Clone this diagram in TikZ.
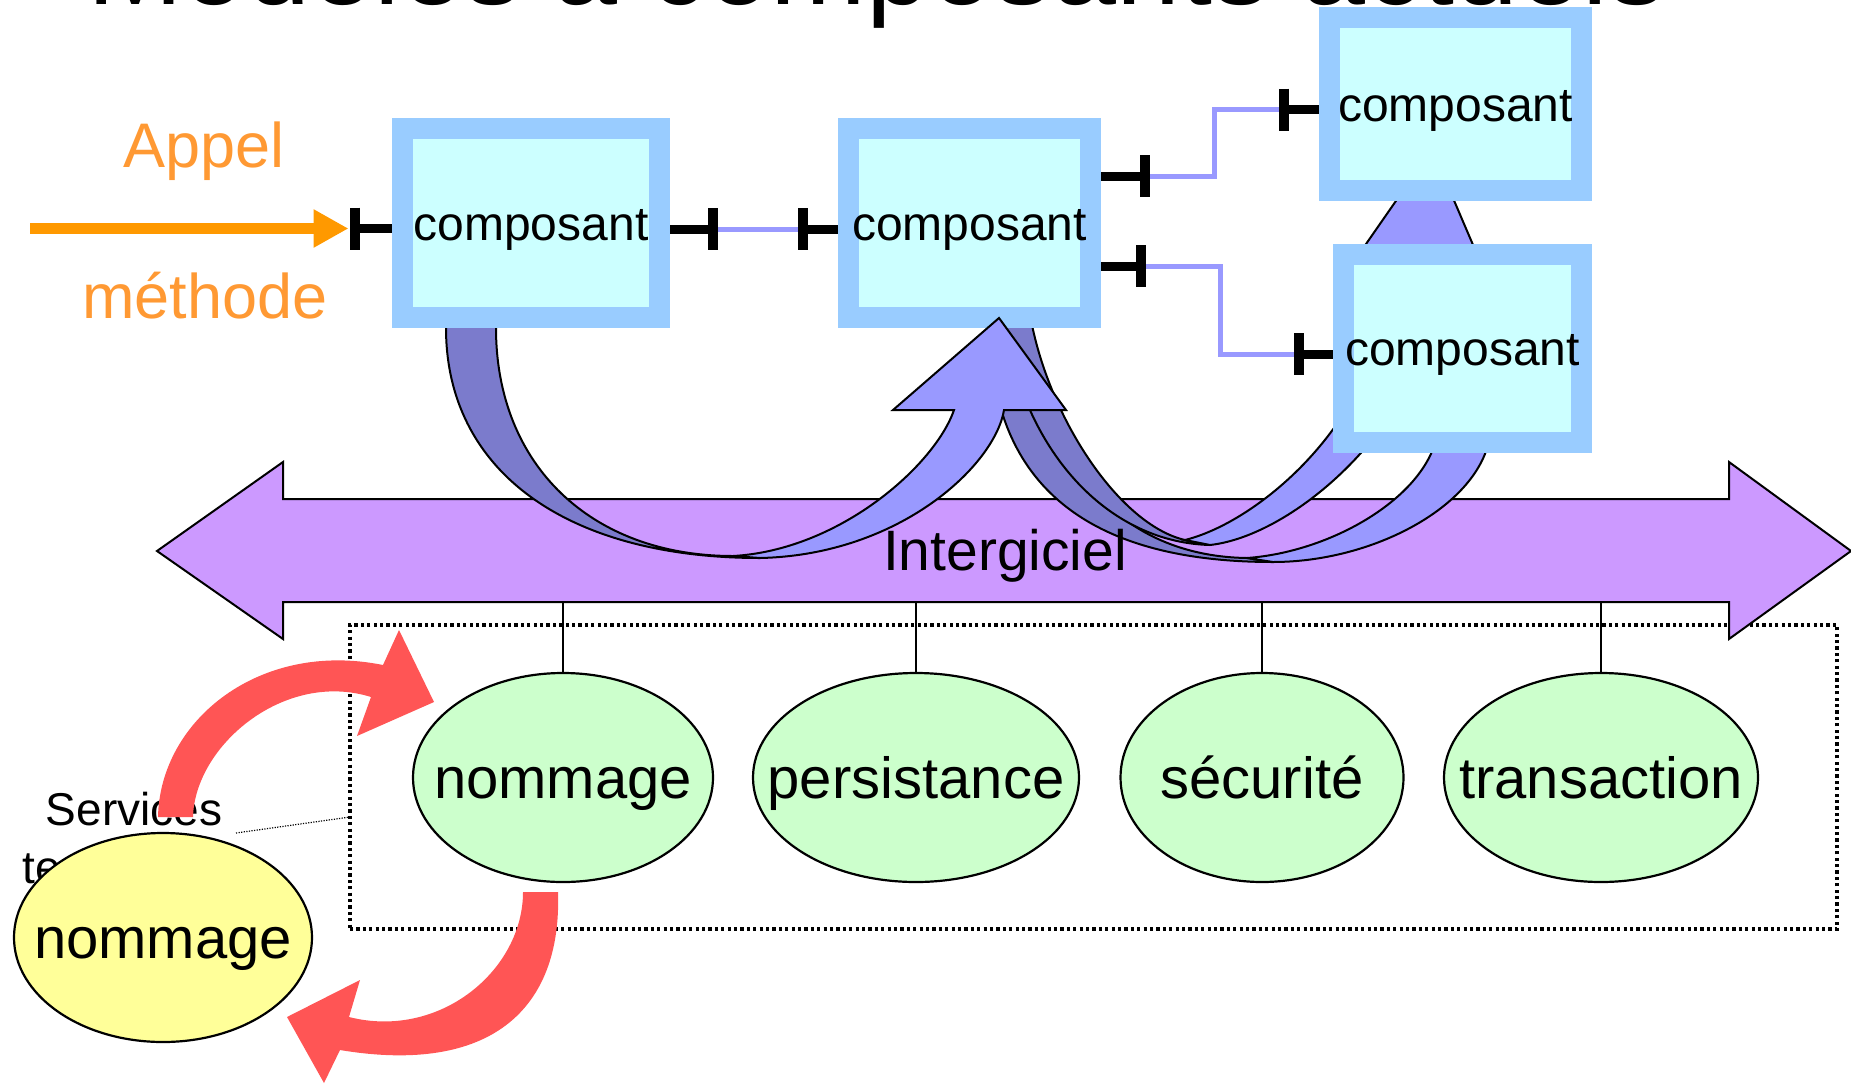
\documentclass[tikz,border=0pt]{standalone}
\usepackage{fontspec}
\setmainfont{Liberation Sans}
\usetikzlibrary{shapes.geometric,arrows.meta}
\definecolor{boxblue}{HTML}{99CCFF}
\definecolor{boxcyan}{HTML}{CCFFFF}
\definecolor{wirepurple}{HTML}{9999FF}
\definecolor{banddark}{HTML}{7B7BCC}
\definecolor{bandlight}{HTML}{9999FF}
\definecolor{mwpurple}{HTML}{CC99FF}
\definecolor{svcgreen}{HTML}{CCFFCC}
\definecolor{svcyellow}{HTML}{FFFF99}
\definecolor{redarrow}{HTML}{FF5555}
\definecolor{arroworange}{HTML}{FF9900}
\definecolor{textorange}{HTML}{FF9933}
\begin{document}
\begin{tikzpicture}[x=1pt,y=-1pt,
  compbox/.style={draw=boxblue, line width=21pt, fill=boxcyan, inner sep=0pt,
    font=\fontsize{48}{58}\selectfont, text height=40pt, text depth=6pt},
  svcell/.style={ellipse, draw=black, line width=2.2pt, inner sep=0pt, minimum height=209pt,
    font=\fontsize{58}{70}\selectfont, text height=53pt, text depth=12pt},
  bandd/.style={fill=banddark, draw=black, line width=2pt},
  bandl/.style={fill=bandlight, draw=black, line width=2pt},
  portbar/.style={draw=black, line width=10pt},
  portstub/.style={draw=black, line width=9pt},
  wire/.style={draw=wirepurple, line width=5pt},
  redshape/.style={fill=redarrow},
  vline/.style={draw=black, line width=1.6pt},
  orangetext/.style={text=textorange, font=\fontsize{63}{75}\selectfont, inner sep=0pt},
]
\useasboundingbox (0,0) rectangle (1851,1084);

% title (clipped at the top)
\node[anchor=base west, inner sep=0pt, font=\fontsize{115}{130}\selectfont] (title) at (87,5) {Modèles à composants actuels};

% dotted services frame
\node[draw=black, line width=3.2pt, dash pattern=on 3.2pt off 3.2pt,
      minimum width=1487pt, minimum height=304pt, inner sep=0pt] (svcbox) at (1093.5,777) {};

% Intergiciel double arrow
\path[fill=mwpurple, draw=black, line width=2pt]
  (157,551) -- (283,462) -- (283,499) -- (1729,499) -- (1729,462) -- (1851,551)
  -- (1729,639) -- (1729,602) -- (283,602) -- (283,639) -- cycle;
\node[minimum width=1446pt, minimum height=103pt, inner sep=0pt] (mw) at (1006,550.5) {};

% service ellipses
\node[svcell, fill=svcgreen, minimum width=300pt] (e1) at (563,777.5) {\makebox[0pt]{nommage}};
\node[svcell, fill=svcgreen, minimum width=326pt] (e2) at (916,777.5) {\makebox[0pt]{persistance}};
\node[svcell, fill=svcgreen, minimum width=283pt] (e3) at (1262,777.5) {\makebox[0pt]{sécurité}};
\node[svcell, fill=svcgreen, minimum width=314pt] (e4) at (1601,777.5) {\makebox[0pt]{transaction}};
\draw[vline] (e1.north) -- (e1.north |- mw.south);
\draw[vline] (e2.north) -- (e2.north |- mw.south);
\draw[vline] (e3.north) -- (e3.north |- mw.south);
\draw[vline] (e4.north) -- (e4.north |- mw.south);

% Services techniques + external naming service
\node[anchor=base, inner sep=0pt, font=\fontsize{46}{56}\selectfont] (svc1) at (134,825) {Services};
\node[anchor=base, inner sep=0pt, font=\fontsize{46}{56}\selectfont] (svc2) at (134,883) {techniques};
\node[svcell, fill=svcyellow, minimum width=298pt] (ey) at (163,937.5) {\makebox[0pt]{nommage}};

% curved arrow 3 (to lower right component)
\path[bandd] (990,320) .. controls (988,460) and (1060,562) .. (1273,562) -- (1247,558)
  .. controls (1110,556) and (1038,450) .. (1031,320) -- cycle;
\path[bandl] (1247,558) .. controls (1330,552) and (1420,500) .. (1436,440) -- (1436,420)
  -- (1492,420) -- (1488,445) .. controls (1470,510) and (1370,562) .. (1273,562) -- cycle;
% curved arrow 2 (to upper right component)
\path[bandd] (1005,320) .. controls (1020,440) and (1100,542) .. (1210,545) -- (1185,540)
  .. controls (1120,525) and (1050,420) .. (1031,320) -- cycle;
\path[bandl] (1185,540) .. controls (1265,520) and (1386,410) .. (1386,280) -- (1341,280)
  -- (1432,149) -- (1488,280) -- (1436,280) .. controls (1436,410) and (1300,535) .. (1210,545) -- cycle;
% curved arrow 1, back part
\path[bandd] (446,320) -- (446,328) .. controls (446,470) and (565,558) .. (760,558) -- (733,556)
  .. controls (591,556) and (496,465) .. (496,328) -- (496,320) -- cycle;

% components
\node[compbox, minimum width=257pt, minimum height=189pt] (c1) at (531,223) {composant};
\node[compbox, minimum width=242pt, minimum height=189pt] (c2) at (969.5,223) {composant};
\node[compbox, minimum width=252pt, minimum height=173pt] (c3) at (1455.5,104) {composant};
\node[compbox, minimum width=238pt, minimum height=188pt] (c4) at (1462.5,348.5) {composant};

% curved arrow 1, front part with head
\path[bandl] (733,556) .. controls (840,550) and (935,465) .. (954,410) -- (893,410) -- (999,318)
  -- (1066,410) -- (1004,410) .. controls (995,465) and (900,555) .. (760,558) -- cycle;

% ports and wires
\coordinate (oa) at (30,228.5);
\coordinate (p1) at (354.5,228.5);
\coordinate (p2) at (713,229);
\coordinate (p3) at (803,229);
\coordinate (p4) at (1144.5,176);
\coordinate (p5) at (1283.5,109.5);
\coordinate (p6) at (1141,266);
\coordinate (p7) at (1298.5,354);
\draw[wire] (p2) -- (p3);
\draw[wire] (p4) -- ++(69.5,0) |- (p5);
\draw[wire] (p6) -- ++(79,0) |- (p7);
\draw[portstub] (p1) -- (p1 -| c1.west);
\draw[portstub] (p2) -- (p2 -| c1.east);
\draw[portstub] (p3) -- (p3 -| c2.west);
\draw[portstub] (p4) -- (p4 -| c2.east);
\draw[portstub] (p5) -- (p5 -| c3.west);
\draw[portstub] (p6) -- (p6 -| c2.east);
\draw[portstub] (p7) -- (p7 -| c4.west);
\foreach \p in {p1,p2,p3,p4,p5,p6,p7}
  \draw[portbar] ([yshift=21pt]\p) -- ([yshift=-21pt]\p);

% method call
\draw[draw=arroworange, line width=11pt, -{Triangle[length=35pt,width=36pt]}] (oa) -- ([xshift=-6pt]p1);
\node[orangetext, anchor=base] (appel) at (204,167) {Appel};
\node[orangetext, anchor=base] (methode) at (205,318) {méthode};

% middleware label
\node[anchor=base, inner sep=0pt, font=\fontsize{57}{68}\selectfont] (mwlabel) at (1005,570) {Intergiciel};

% red exchange arrows
\path[redshape] (158,817) .. controls (160,720) and (260,640) .. (383,665) -- (399,630) -- (434,702)
  -- (357,736) -- (371,697) .. controls (285,670) and (195,745) .. (193,817) -- cycle;
\path[redshape] (558,892) .. controls (562,1010) and (490,1075) .. (340,1050) -- (324,1083)
  -- (287,1017) -- (360,980) -- (349,1017) .. controls (440,1040) and (523,970) .. (523,892) -- cycle;

% dotted pointer from the label to the frame
\coordinate (sl1) at (236,833);
\coordinate (sl2) at (350,817);
\draw[black, line width=1.2pt, dash pattern=on 1.2pt off 1.4pt] (sl1) -- (sl2);
\end{tikzpicture}
\end{document}
